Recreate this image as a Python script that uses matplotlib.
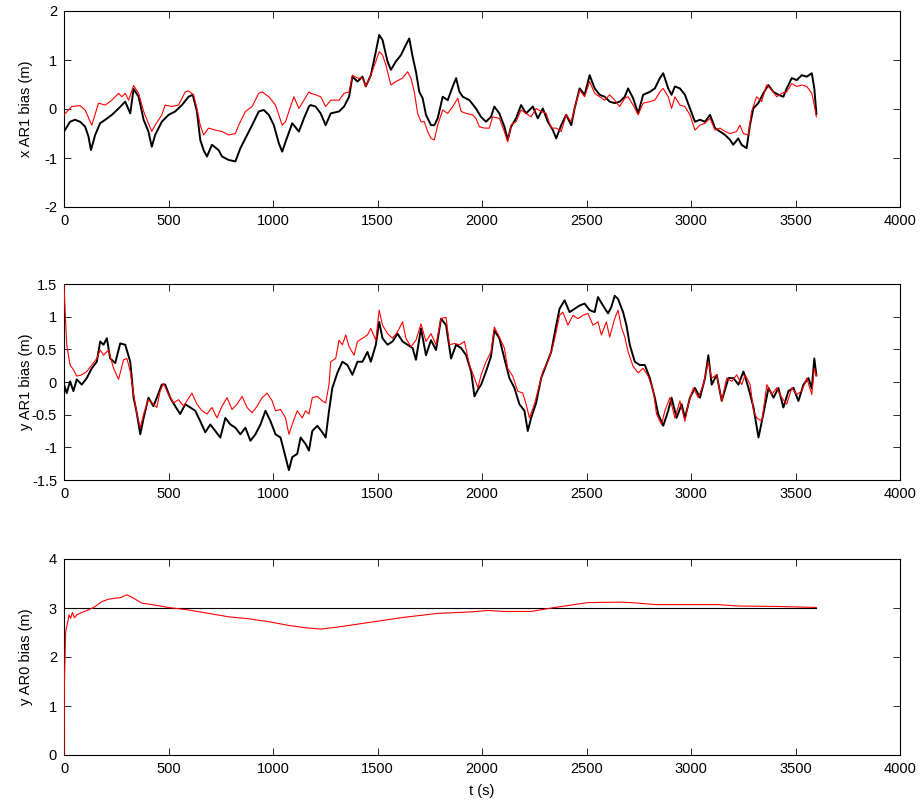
import matplotlib
matplotlib.use("Agg")
import matplotlib.pyplot as plt
import numpy as np

plt.rcParams['font.family'] = ['Liberation Sans', 'DejaVu Sans']
plt.rcParams['font.size'] = 10.5

# ---- x AR1 bias: estimated (red) vs. true (black) ----
x_est_t = [0, 37, 77, 101, 133, 165, 197, 229, 261, 277, 293, 309, 333, 357, 381, 404, 420, 436, 468, 484,
           516, 548, 580, 596, 620, 636, 652, 668, 692, 724, 756, 788, 820, 836, 868, 900, 932, 948, 980, 1012,
           1044, 1060, 1076, 1100, 1124, 1148, 1172, 1180, 1204, 1228, 1252, 1276, 1316, 1340, 1364, 1380, 1404,
           1428, 1444, 1468, 1492, 1508, 1524, 1540, 1564, 1588, 1620, 1644, 1660, 1676, 1692, 1708, 1724, 1740,
           1756, 1772, 1788, 1812, 1836, 1860, 1884, 1900, 1924, 1955, 1971, 1987, 2011, 2035, 2051, 2083, 2107,
           2123, 2139, 2163, 2187, 2211, 2235, 2259, 2283, 2307, 2331, 2355, 2379, 2403, 2427, 2443, 2467, 2491,
           2515, 2539, 2563, 2587, 2611, 2635, 2659, 2683, 2699, 2723, 2747, 2771, 2803, 2827, 2851, 2867, 2891,
           2907, 2923, 2947, 2971, 2995, 3019, 3043, 3067, 3091, 3115, 3139, 3163, 3187, 3218, 3234, 3250, 3274,
           3290, 3314, 3338, 3362, 3386, 3410, 3434, 3458, 3482, 3506, 3530, 3554, 3578, 3590, 3600]
x_est_v = [-0.12, 0.05, 0.07, -0.02, -0.33, 0.12, 0.08, 0.18, 0.32, 0.25, 0.32, 0.18, 0.48, 0.32, -0.05, -0.29,
           -0.46, -0.33, -0.12, 0.08, 0.05, 0.08, 0.35, 0.37, 0.29, 0.01, -0.33, -0.53, -0.39, -0.43, -0.46, -0.53,
           -0.50, -0.33, -0.05, 0.05, 0.32, 0.35, 0.25, 0.08, -0.33, -0.26, -0.05, 0.25, 0.01, 0.18, 0.35, 0.32,
           0.29, 0.25, 0.05, 0.18, 0.18, 0.32, 0.35, 0.69, 0.63, 0.63, 0.46, 0.69, 0.97, 1.17, 1.10, 0.90, 0.49,
           0.56, 0.63, 0.76, 0.63, 0.35, -0.09, -0.26, -0.26, -0.46, -0.60, -0.63, -0.33, -0.02, -0.09, 0.05,
           0.22, -0.05, -0.09, -0.12, -0.19, -0.36, -0.39, -0.39, -0.16, -0.19, -0.46, -0.67, -0.33, -0.26, -0.02,
           -0.09, -0.16, 0.01, -0.05, -0.09, -0.39, -0.39, -0.46, -0.12, -0.26, 0.01, 0.39, 0.25, 0.56, 0.32, 0.25,
           0.18, 0.29, 0.18, 0.05, 0.22, 0.25, 0.08, -0.12, 0.12, 0.15, 0.18, 0.35, 0.42, 0.25, 0.01, 0.25, 0.08,
           0.05, -0.12, -0.43, -0.33, -0.29, -0.19, -0.43, -0.39, -0.46, -0.50, -0.46, -0.33, -0.50, -0.53, -0.05,
           0.25, 0.15, 0.49, 0.39, 0.25, 0.32, 0.35, 0.52, 0.46, 0.49, 0.46, 0.32, 0.08, -0.16]

x_true_t = [0, 29, 53, 77, 101, 117, 129, 149, 173, 197, 229, 261, 293, 317, 333, 357, 381, 404, 420, 436, 468,
            500, 532, 564, 596, 616, 636, 652, 668, 684, 708, 740, 756, 788, 820, 844, 868, 900, 932, 956, 980,
            1004, 1028, 1044, 1060, 1092, 1124, 1148, 1172, 1180, 1204, 1228, 1252, 1276, 1316, 1340, 1364, 1380,
            1404, 1428, 1444, 1468, 1492, 1508, 1524, 1548, 1564, 1588, 1612, 1636, 1652, 1668, 1684, 1700, 1716,
            1732, 1756, 1772, 1788, 1812, 1836, 1860, 1876, 1892, 1908, 1940, 1971, 1995, 2019, 2043, 2059, 2083,
            2107, 2123, 2139, 2163, 2187, 2211, 2243, 2267, 2291, 2315, 2339, 2355, 2379, 2403, 2427, 2443, 2467,
            2491, 2515, 2539, 2563, 2587, 2611, 2635, 2659, 2683, 2699, 2723, 2747, 2771, 2803, 2827, 2851, 2867,
            2891, 2907, 2923, 2947, 2971, 2995, 3019, 3043, 3067, 3091, 3115, 3139, 3163, 3187, 3202, 3226, 3242,
            3266, 3282, 3298, 3322, 3346, 3370, 3394, 3418, 3442, 3458, 3482, 3506, 3530, 3554, 3578, 3590, 3600]
x_true_v = [-0.46, -0.26, -0.22, -0.26, -0.36, -0.56, -0.84, -0.53, -0.29, -0.22, -0.12, 0.01, 0.15, -0.09, 0.41,
            0.25, -0.22, -0.46, -0.77, -0.53, -0.26, -0.12, -0.05, 0.08, 0.25, 0.29, -0.05, -0.63, -0.84, -0.97,
            -0.73, -0.84, -0.97, -1.04, -1.07, -0.80, -0.60, -0.33, -0.05, -0.02, -0.12, -0.33, -0.70, -0.87, -0.67,
            -0.29, -0.46, -0.19, 0.05, 0.08, 0.05, -0.09, -0.33, -0.09, -0.05, 0.05, 0.25, 0.66, 0.56, 0.66, 0.46,
            0.69, 1.17, 1.51, 1.41, 0.97, 0.80, 0.97, 1.10, 1.31, 1.44, 1.07, 0.76, 0.35, 0.22, -0.12, -0.33, -0.33,
            -0.19, 0.25, 0.18, 0.46, 0.63, 0.35, 0.25, 0.18, 0.01, -0.16, -0.26, -0.16, 0.05, -0.09, -0.36, -0.63,
            -0.36, -0.19, 0.08, -0.09, 0.05, -0.19, 0.01, -0.26, -0.43, -0.60, -0.33, -0.12, -0.33, 0.01, 0.42,
            0.29, 0.69, 0.42, 0.29, 0.25, 0.15, 0.12, 0.15, 0.25, 0.42, 0.22, -0.09, 0.29, 0.35, 0.42, 0.63, 0.73,
            0.42, 0.29, 0.46, 0.42, 0.29, 0.01, -0.26, -0.22, -0.26, -0.12, -0.39, -0.46, -0.53, -0.63, -0.73,
            -0.60, -0.73, -0.80, -0.33, 0.01, 0.12, 0.32, 0.49, 0.35, 0.29, 0.25, 0.42, 0.63, 0.59, 0.69, 0.66,
            0.73, 0.42, -0.10]

# ---- y AR1 bias ----
y_est_t = [0, 5, 13, 29, 45, 61, 85, 109, 133, 157, 173, 189, 213, 237, 261, 285, 301, 317, 333, 349, 365, 381,
           404, 428, 444, 460, 476, 500, 524, 548, 572, 588, 612, 636, 660, 684, 708, 732, 756, 780, 804, 828, 852,
           876, 900, 924, 948, 972, 996, 1012, 1036, 1060, 1076, 1092, 1116, 1140, 1156, 1172, 1188, 1212, 1236,
           1252, 1268, 1276, 1300, 1316, 1332, 1348, 1364, 1388, 1404, 1428, 1452, 1468, 1492, 1508, 1524, 1548,
           1572, 1596, 1620, 1636, 1660, 1684, 1708, 1732, 1756, 1780, 1804, 1828, 1844, 1868, 1892, 1916, 1940,
           1964, 1980, 1996, 2019, 2043, 2059, 2083, 2107, 2123, 2147, 2171, 2195, 2211, 2227, 2251, 2267, 2291,
           2315, 2339, 2355, 2371, 2387, 2411, 2435, 2459, 2483, 2507, 2531, 2555, 2571, 2595, 2611, 2635, 2651,
           2667, 2683, 2699, 2723, 2747, 2771, 2795, 2819, 2835, 2859, 2875, 2899, 2923, 2947, 2971, 2987, 3011,
           3035, 3059, 3083, 3099, 3123, 3147, 3171, 3195, 3219, 3243, 3259, 3283, 3299, 3315, 3339, 3363, 3387,
           3410, 3434, 3458, 3482, 3506, 3530, 3554, 3578, 3590, 3600]
y_est_v = [1.47, 1.12, 0.57, 0.26, 0.19, 0.09, 0.11, 0.16, 0.26, 0.36, 0.49, 0.41, 0.49, 0.21, 0.04, 0.34, 0.36,
           0.16, -0.19, -0.49, -0.70, -0.49, -0.27, -0.34, -0.39, -0.14, -0.02, -0.19, -0.32, -0.27, -0.37, -0.29,
           -0.17, -0.34, -0.44, -0.49, -0.39, -0.55, -0.37, -0.24, -0.42, -0.34, -0.22, -0.39, -0.47, -0.37, -0.24,
           -0.17, -0.29, -0.44, -0.42, -0.55, -0.80, -0.65, -0.44, -0.55, -0.44, -0.49, -0.24, -0.22, -0.29, -0.32,
           -0.04, 0.31, 0.36, 0.64, 0.57, 0.72, 0.54, 0.41, 0.62, 0.67, 0.72, 0.82, 0.64, 1.10, 0.87, 0.74, 0.67,
           0.77, 0.92, 0.67, 0.54, 0.64, 0.89, 0.62, 0.74, 0.57, 0.97, 0.99, 0.57, 0.59, 0.57, 0.62, 0.26, 0.06,
           -0.09, 0.11, 0.31, 0.46, 0.84, 0.69, 0.52, 0.21, 0.09, -0.14, -0.17, -0.34, -0.55, -0.34, -0.14, 0.16,
           0.31, 0.54, 0.77, 1.02, 1.07, 0.87, 1.02, 0.97, 1.02, 1.05, 0.87, 0.92, 0.72, 0.92, 0.69, 0.97, 1.10,
           0.84, 0.69, 0.46, 0.24, 0.14, 0.21, 0.09, -0.12, -0.49, -0.65, -0.44, -0.24, -0.55, -0.29, -0.60, -0.34,
           -0.09, -0.24, -0.04, 0.31, 0.06, 0.11, -0.29, 0.06, 0.01, 0.11, -0.04, 0.11, -0.04, -0.44, -0.55, -0.60,
           -0.04, -0.19, -0.09, -0.24, -0.34, -0.09, -0.19, -0.14, 0.06, -0.19, 0.21, 0.10]

y_true_t = [0, 13, 29, 45, 61, 85, 109, 133, 157, 173, 189, 205, 221, 245, 269, 293, 317, 333, 349, 365, 381, 404,
            428, 444, 468, 484, 508, 532, 556, 580, 604, 628, 652, 676, 700, 724, 748, 772, 796, 820, 844, 868,
            892, 916, 940, 964, 988, 1012, 1036, 1060, 1076, 1092, 1116, 1132, 1156, 1172, 1188, 1212, 1236, 1252,
            1268, 1284, 1308, 1332, 1356, 1380, 1404, 1428, 1452, 1468, 1492, 1508, 1524, 1548, 1572, 1596, 1620,
            1644, 1668, 1684, 1708, 1732, 1756, 1780, 1804, 1828, 1852, 1876, 1900, 1924, 1948, 1964, 1980, 1996,
            2019, 2043, 2059, 2083, 2107, 2131, 2155, 2179, 2203, 2219, 2235, 2259, 2283, 2307, 2331, 2355, 2371,
            2395, 2419, 2443, 2467, 2491, 2515, 2539, 2555, 2579, 2603, 2619, 2635, 2651, 2675, 2691, 2707, 2731,
            2755, 2779, 2803, 2827, 2843, 2867, 2891, 2907, 2931, 2955, 2971, 2995, 3019, 3043, 3067, 3083, 3099,
            3123, 3147, 3179, 3203, 3227, 3251, 3275, 3299, 3323, 3339, 3371, 3395, 3418, 3442, 3466, 3490, 3514,
            3538, 3562, 3578, 3590, 3600]
y_true_v = [-0.04, -0.17, 0.01, -0.14, 0.04, -0.04, 0.06, 0.21, 0.31, 0.62, 0.57, 0.67, 0.36, 0.29, 0.59, 0.57,
            0.31, -0.24, -0.49, -0.80, -0.55, -0.24, -0.37, -0.24, -0.04, -0.04, -0.24, -0.37, -0.49, -0.34, -0.39,
            -0.44, -0.60, -0.77, -0.65, -0.75, -0.85, -0.55, -0.65, -0.70, -0.80, -0.70, -0.90, -0.80, -0.65, -0.44,
            -0.60, -0.80, -0.85, -1.15, -1.35, -1.15, -1.10, -0.85, -0.95, -1.05, -0.75, -0.67, -0.77, -0.85, -0.44,
            -0.09, 0.14, 0.31, 0.26, 0.11, 0.31, 0.31, 0.46, 0.31, 0.57, 0.92, 0.67, 0.57, 0.62, 0.74, 0.62, 0.57,
            0.52, 0.34, 0.82, 0.41, 0.64, 0.49, 0.97, 0.87, 0.36, 0.57, 0.52, 0.41, 0.16, -0.22, -0.12, -0.04, 0.16,
            0.39, 0.79, 0.67, 0.36, 0.06, -0.09, -0.34, -0.44, -0.75, -0.55, -0.32, 0.06, 0.26, 0.46, 0.87, 1.12,
            1.25, 1.07, 1.12, 1.17, 1.20, 1.10, 1.07, 1.30, 1.17, 1.05, 1.15, 1.32, 1.27, 1.07, 0.87, 0.57, 0.31,
            0.26, 0.26, 0.06, -0.24, -0.49, -0.67, -0.44, -0.24, -0.55, -0.34, -0.55, -0.24, -0.09, -0.24, 0.06,
            0.41, -0.04, 0.11, -0.29, 0.06, 0.06, -0.04, 0.16, -0.09, -0.39, -0.85, -0.60, -0.09, -0.24, -0.09,
            -0.39, -0.14, -0.09, -0.29, -0.04, 0.06, -0.10, 0.36, 0.10]

# ---- y AR0 bias: estimate converging to the constant true value ----
ar0_est_t = [0, 2, 8, 18, 24, 32, 40, 50, 61, 85, 117, 149, 181, 213, 245, 269, 301, 333, 372, 436, 500, 596,
             692, 788, 884, 980, 1068, 1148, 1228, 1308, 1468, 1627, 1787, 1947, 2027, 2107, 2235, 2347, 2507,
             2667, 2747, 2827, 3130, 3226, 3434, 3600]
ar0_est_v = [0.0, 1.5, 2.52, 2.72, 2.86, 2.79, 2.91, 2.80, 2.86, 2.91, 2.96, 3.03, 3.13, 3.18, 3.20, 3.21, 3.27,
             3.20, 3.10, 3.06, 3.01, 2.96, 2.89, 2.82, 2.78, 2.72, 2.65, 2.60, 2.57, 2.61, 2.71, 2.81, 2.89, 2.92,
             2.95, 2.93, 2.93, 3.01, 3.11, 3.12, 3.10, 3.07, 3.07, 3.04, 3.03, 3.01]
ar0_true_t = [0, 3600]
ar0_true_v = [3, 3]

x_ticks = [0, 500, 1000, 1500, 2000, 2500, 3000, 3500, 4000]

panels = [
    dict(est=(x_est_t, x_est_v), true=(x_true_t, x_true_v), ylim=(-2, 2),
         yticks=[-2, -1, 0, 1, 2], ylabel='x AR1 bias (m)', true_lw=1.4),
    dict(est=(y_est_t, y_est_v), true=(y_true_t, y_true_v), ylim=(-1.5, 1.5),
         yticks=[-1.5, -1, -0.5, 0, 0.5, 1, 1.5], ylabel='y AR1 bias (m)', true_lw=1.4),
    dict(est=(ar0_est_t, ar0_est_v), true=(ar0_true_t, ar0_true_v), ylim=(0, 4),
         yticks=[0, 1, 2, 3, 4], ylabel='y AR0 bias (m)', true_lw=0.8),
]

fig = plt.figure(figsize=(9.22, 8.0), dpi=100)
left, width = 64 / 922, 836 / 922
tops = [11, 284, 559]
height_px = 196

for p, top in zip(panels, tops):
    ax = fig.add_axes([left, 1 - (top + height_px) / 800, width, height_px / 800])
    ax.plot(*p['true'], color='black', lw=p['true_lw'], zorder=3)
    ax.plot(*p['est'], color='red', lw=0.8, zorder=4)
    ax.set_xlim(0, 4000)
    ax.set_ylim(*p['ylim'])
    ax.set_xticks(x_ticks)
    ax.set_yticks(p['yticks'])
    ax.set_yticklabels([f'{v:g}' for v in p['yticks']])
    ax.tick_params(direction='in', top=True, right=True, length=5, width=0.6, pad=5,
                   labelsize=10.5, colors='black')
    for s in ax.spines.values():
        s.set_linewidth(0.8)
    ax.set_ylabel(p['ylabel'], fontsize=10.5)
    ax.yaxis.set_label_coords(-0.037, 0.5)
    last = ax

last.set_xlabel('t (s)', fontsize=10.5)
last.xaxis.set_label_coords(0.5, -0.15)

fig.savefig('out.png', dpi=100, facecolor='white')
